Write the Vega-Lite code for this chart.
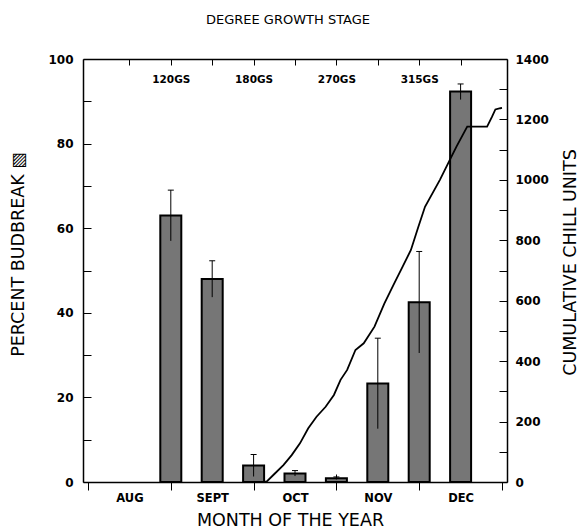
{
  "$schema": "https://vega.github.io/schema/vega-lite/v6.json",
  "width": 424,
  "height": 423,
  "autosize": {"type": "none"},
  "padding": {"left": 83, "top": 59, "right": 72, "bottom": 49},
  "background": "white",
  "title": {
    "text": "DEGREE GROWTH STAGE",
    "font": "DejaVu Sans",
    "fontSize": 13,
    "fontWeight": "normal",
    "color": "black",
    "offset": 26,
    "dx": -7
  },
  "datasets": {
    "bars": [
      {"m": 1, "pct": 63, "lo": 57, "hi": 69},
      {"m": 1.5, "pct": 48, "lo": 43.7, "hi": 52.3},
      {"m": 2, "pct": 3.9, "lo": 1.3, "hi": 6.5},
      {"m": 2.5, "pct": 2, "lo": 1.4, "hi": 2.7},
      {"m": 3, "pct": 0.9, "lo": 0.6, "hi": 1.2},
      {"m": 3.5, "pct": 23.3, "lo": 12.6, "hi": 34},
      {"m": 4, "pct": 42.5, "lo": 30.5, "hi": 54.5},
      {"m": 4.5, "pct": 92.3, "lo": 90.4, "hi": 94.1}
    ],
    "chill": [
      {"m": 2.12, "cu": 0},
      {"m": 2.16, "cu": 2},
      {"m": 2.26, "cu": 29},
      {"m": 2.36, "cu": 56},
      {"m": 2.46, "cu": 89},
      {"m": 2.56, "cu": 128},
      {"m": 2.66, "cu": 178},
      {"m": 2.76, "cu": 216},
      {"m": 2.87, "cu": 249},
      {"m": 2.97, "cu": 288},
      {"m": 3.05, "cu": 338},
      {"m": 3.13, "cu": 371},
      {"m": 3.23, "cu": 437},
      {"m": 3.33, "cu": 459},
      {"m": 3.46, "cu": 514},
      {"m": 3.58, "cu": 591},
      {"m": 3.70, "cu": 658},
      {"m": 3.80, "cu": 713},
      {"m": 3.90, "cu": 768},
      {"m": 3.99, "cu": 845},
      {"m": 4.07, "cu": 911},
      {"m": 4.25, "cu": 1000},
      {"m": 4.37, "cu": 1066},
      {"m": 4.45, "cu": 1110},
      {"m": 4.58, "cu": 1176},
      {"m": 4.82, "cu": 1176},
      {"m": 4.88, "cu": 1209},
      {"m": 4.92, "cu": 1233},
      {"m": 4.98, "cu": 1237},
      {"m": 5.0, "cu": 1238}
    ]
  },
  "layer": [
    {
      "data": {"name": "bars"},
      "mark": {"type": "bar", "size": 21, "fill": "#767676", "stroke": "black", "strokeWidth": 2},
      "encoding": {
        "x": {
          "field": "m", "type": "quantitative",
          "scale": {"domain": [0, 5], "nice": false, "zero": false},
          "axis": {
            "orient": "bottom",
            "values": [0, 0.5, 1, 1.5, 2, 2.5, 3, 3.5, 4, 4.5, 5],
            "labelExpr": "datum.value == 0.5 ? 'AUG' : datum.value == 1.5 ? 'SEPT' : datum.value == 2.5 ? 'OCT' : datum.value == 3.5 ? 'NOV' : datum.value == 4.5 ? 'DEC' : ''",
            "tickOpacity": {"condition": {"test": "datum.value % 1 == 0", "value": 1}, "value": 0},
            "tickSize": 8,
            "tickColor": "black",
            "tickWidth": 1,
            "domainColor": "black",
            "domainWidth": 1.5,
            "grid": false,
            "labelFont": "DejaVu Sans",
            "labelFontWeight": "bold",
            "labelFontSize": 11.5,
            "labelColor": "black",
            "labelPadding": 2,
            "labelBaseline": "top",
            "labelFlush": false,
            "labelOverlap": false,
            "title": "MONTH OF THE YEAR",
            "titleFont": "DejaVu Sans",
            "titleFontWeight": "normal",
            "titleFontSize": 17.5,
            "titleColor": "black",
            "titlePadding": 8,
            "titleX": 207
          }
        },
        "y": {
          "field": "pct", "type": "quantitative",
          "scale": {"domain": [0, 100], "nice": false},
          "axis": {
            "orient": "left",
            "values": [0, 10, 20, 30, 40, 50, 60, 70, 80, 90, 100],
            "labelExpr": "datum.value % 20 == 0 ? datum.label : ''",
            "tickSize": -8,
            "tickColor": "black",
            "domainColor": "black",
            "domainWidth": 1.5,
            "grid": false,
            "labelFont": "DejaVu Sans",
            "labelFontWeight": "bold",
            "labelFontSize": 12,
            "labelColor": "black",
            "labelPadding": 18,
            "labelFlush": false,
            "labelOverlap": false,
            "title": "PERCENT BUDBREAK  ▧",
            "titleFont": "DejaVu Sans",
            "titleFontWeight": "normal",
            "titleFontSize": 17.5,
            "titleColor": "black",
            "titleAngle": 270,
            "titleBaseline": "middle",
            "titleAlign": "center",
            "titleX": -65,
            "titleY": 195
          }
        }
      }
    },
    {
      "data": {"name": "bars"},
      "mark": {"type": "rule", "color": "black", "strokeWidth": 1},
      "encoding": {
        "x": {
          "field": "m", "type": "quantitative",
          "scale": {"domain": [0, 5], "nice": false, "zero": false},
          "axis": {
            "orient": "bottom",
            "values": [1, 2, 3, 4],
            "tickSize": -8,
            "tickColor": "black",
            "domain": false,
            "labels": false,
            "grid": false,
            "title": null
          }
        },
        "y": {"field": "lo", "type": "quantitative", "scale": {"domain": [0, 100], "nice": false}, "axis": null},
        "y2": {"field": "hi"}
      }
    },
    {
      "data": {"name": "bars"},
      "mark": {"type": "tick", "orient": "horizontal", "size": 6, "thickness": 1, "color": "black", "opacity": 1},
      "encoding": {
        "x": {
          "field": "m", "type": "quantitative",
          "scale": {"domain": [0, 5], "nice": false, "zero": false},
          "axis": {
            "orient": "top",
            "values": [0.5, 1, 1.5, 2, 2.5, 3, 3.5, 4, 4.5],
            "labelExpr": "datum.value == 1 ? '120GS' : datum.value == 2 ? '180GS' : datum.value == 3 ? '270GS' : datum.value == 4 ? '315GS' : ''",
            "tickSize": -6,
            "tickColor": "black",
            "domainColor": "black",
            "domainWidth": 1.5,
            "grid": false,
            "labelFont": "DejaVu Sans",
            "labelFontWeight": "bold",
            "labelFontSize": 10.5,
            "labelColor": "black",
            "labelPadding": -14,
            "labelBaseline": "middle",
            "labelFlush": false,
            "labelOverlap": false,
            "title": null
          }
        },
        "y": {"field": "hi", "type": "quantitative", "scale": {"domain": [0, 100], "nice": false}, "axis": null}
      }
    },
    {
      "data": {"name": "chill"},
      "mark": {"type": "line", "color": "black", "strokeWidth": 1.8, "interpolate": "linear"},
      "encoding": {
        "x": {
          "field": "m", "type": "quantitative",
          "scale": {"domain": [0, 5], "nice": false, "zero": false},
          "axis": null
        },
        "y": {
          "field": "cu", "type": "quantitative",
          "scale": {"domain": [0, 1400], "nice": false},
          "axis": {
            "orient": "right",
            "values": [0, 100, 200, 300, 400, 500, 600, 700, 800, 900, 1000, 1100, 1200, 1300, 1400],
            "labelExpr": "datum.value % 200 == 0 ? datum.label : ''",
            "format": "d",
            "tickSize": -8,
            "tickColor": "black",
            "domainColor": "black",
            "domainWidth": 1.5,
            "grid": false,
            "labelFont": "DejaVu Sans",
            "labelFontWeight": "bold",
            "labelFontSize": 12,
            "labelColor": "black",
            "labelPadding": 16,
            "labelFlush": false,
            "labelOverlap": false,
            "title": "CUMULATIVE CHILL UNITS",
            "titleFont": "DejaVu Sans",
            "titleFontWeight": "normal",
            "titleFontSize": 17.5,
            "titleColor": "black",
            "titleAngle": 270,
            "titleBaseline": "middle",
            "titleAlign": "center",
            "titleX": 63,
            "titleY": 203
          }
        }
      }
    }
  ],
  "resolve": {
    "scale": {"y": "independent"},
    "axis": {"x": "independent", "y": "independent"}
  },
  "config": {
    "view": {"stroke": null}
  }
}
